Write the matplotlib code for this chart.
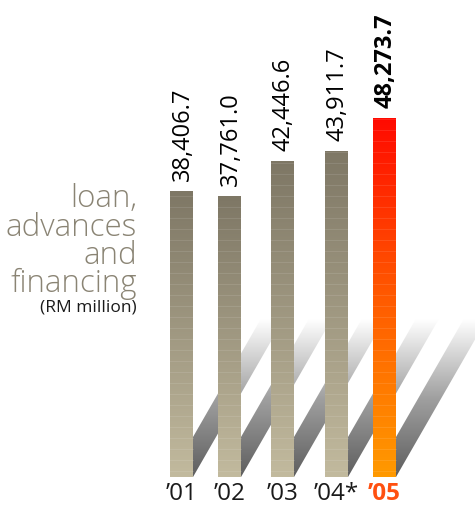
import numpy as np
import matplotlib.pyplot as plt
from matplotlib.patches import Polygon
from matplotlib.colors import LinearSegmentedColormap

plt.rcParams['font.family'] = ['Open Sans', 'DejaVu Sans']

# data
years = ["\u201901", "\u201902", "\u201903", "\u201904*", "\u201905"]
values = [38406.7, 37761.0, 42446.6, 43911.7, 48273.7]
value_labels = ["38,406.7", "37,761.0", "42,446.6", "43,911.7", "48,273.7"]

# layout, in pixel columns of the 475x509 canvas
bar_x = [181.5, 229.5, 282.5, 336.5, 384.5]
bar_w = 23
upp = 134.5          # value units per pixel
W, H = 475, 509
base = 477           # pixel row of the baseline

fig = plt.figure(figsize=(W / 100, H / 100), dpi=100)
ax = fig.add_axes([0, 0, 1, 1])

grey_cmap = LinearSegmentedColormap.from_list('g', ['#c2ba9e', '#7e7765'])
red_cmap = LinearSegmentedColormap.from_list('r', ['#ff9a00', '#ff5a00', '#ff0a00'])
shadow_cmap = LinearSegmentedColormap.from_list('s', ['#5e5e5e', '#a0a0a0', '#ffffff'])

grad = np.linspace(0, 1, 256).reshape(-1, 1)

# diagonal shadows behind the bars
sh_h = 158 * upp
sh_dx = 158 / 1.74
for x in bar_x:
    x0, x1 = x - bar_w / 2, x + bar_w / 2
    poly = Polygon([(x0, 0), (x1, 0), (x1 + sh_dx, sh_h), (x0 + sh_dx, sh_h)],
                   closed=True, facecolor='none', edgecolor='none')
    ax.add_patch(poly)
    im = ax.imshow(grad, cmap=shadow_cmap, origin='lower', aspect='auto',
                   extent=(x0, x1 + sh_dx, 0, sh_h), zorder=1)
    im.set_clip_path(poly)

# bars with vertical gradient
bars = ax.bar(bar_x, values, width=bar_w, color='none', zorder=2)
for i, b in enumerate(bars):
    cm = red_cmap if i == len(bars) - 1 else grey_cmap
    bx, bw, bh = b.get_x(), b.get_width(), b.get_height()
    im = ax.imshow(grad, cmap=cm, origin='lower', aspect='auto',
                   extent=(bx, bx + bw, 0, bh), zorder=3)
    im.set_clip_path(b)
    # faint horizontal streaks
    for yy in np.arange(6, bh / upp, 11):
        ax.plot([bx, bx + bw], [yy * upp, yy * upp], color='white',
                alpha=0.10, lw=0.8, zorder=4)

# value labels
for i, (x, v, lab) in enumerate(zip(bar_x, values, value_labels)):
    last = i == len(values) - 1
    ax.text(x + 1, v + 10 * upp, lab, rotation=90, ha='center', va='bottom',
            fontsize=17, color='black', fontweight='bold' if last else 'normal')

# year labels
for i, (x, y) in enumerate(zip(bar_x, years)):
    last = i == len(years) - 1
    ax.text(x, -5 * upp, y, ha='center', va='top', fontsize=17.5,
            color='#ff5010' if last else '#1a1a1a',
            fontweight='bold' if last else 'normal')

ax.set_xlim(0, W)
ax.set_ylim(-(H - base) * upp, base * upp)
ax.axis('off')

# title block
fig.text(137 / W, 1 - 292 / H, "loan,\nadvances\nand\nfinancing",
         ha='right', va='baseline', multialignment='right', linespacing=0.84,
         fontsize=22.5, color='#8a8474', fontweight='light')
fig.text(137 / W, 1 - 311 / H, "(RM million)", ha='right', va='baseline',
         fontsize=12.5, color='#1a1a1a')

fig.savefig('out.png', dpi=100)
